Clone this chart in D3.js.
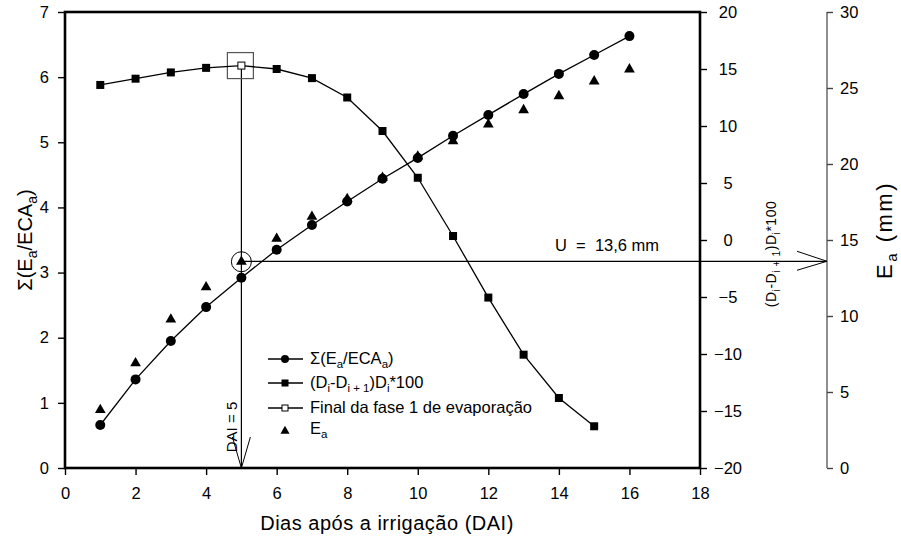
<!DOCTYPE html>
<html>
<head>
<meta charset="utf-8">
<script src="https://cdn.jsdelivr.net/npm/d3@7"></script>
<style>
  body { margin: 0; background: #fff; }
  text { font-family: "Liberation Sans", Arial, sans-serif; fill: #000; }
</style>
</head>
<body>
<svg width="901" height="538"></svg>
<script>
// days after irrigation
var days = [1, 2, 3, 4, 5, 6, 7, 8, 9, 10, 11, 12, 13, 14, 15, 16];
// sum(Ea/ECAa), left axis
var sumRatio = [0.66, 1.36, 1.95, 2.47, 2.92, 3.35, 3.73, 4.09, 4.44, 4.76, 5.10, 5.42, 5.74, 6.05, 6.34, 6.63];
// (Di-Di+1)Di*100, first right axis (days 1..15)
var dRate = [13.6, 14.15, 14.7, 15.1, 15.3, 15.0, 14.2, 12.5, 9.56, 5.46, 0.35, -5.05, -10.06, -13.86, -16.34];
// Ea (mm), second right axis
var ea = [3.82, 6.89, 9.78, 11.89, 13.57, 15.09, 16.53, 17.7, 19.1, 20.5, 21.5, 22.6, 23.55, 24.47, 25.44, 26.23];
var finalDay = 5, finalRate = 15.3, uValue = 13.6;

var xTicks = [0, 2, 4, 6, 8, 10, 12, 14, 16, 18];
var leftTicks = [0, 1, 2, 3, 4, 5, 6, 7];
var right1Ticks = [-20, -15, -10, -5, 0, 5, 10, 15, 20];
var right2Ticks = [0, 5, 10, 15, 20, 25, 30];

var svg = d3.select("svg"),
    pL = 65, pR = 700, pT = 12, pB = 468, axis2X = 827;

var x = d3.scaleLinear().domain([0, 18]).range([pL, pR]);
var y = d3.scaleLinear().domain([0, 7]).range([pB, pT]);
var y1 = d3.scaleLinear().domain([-20, 20]).range([pB, pT]);
var y2 = d3.scaleLinear().domain([0, 30]).range([pB, pT]);
var fmt = d3.format("d");

// axes
var gx = svg.append("g").attr("transform", "translate(0," + pB + ")")
    .call(d3.axisBottom(x).tickValues(xTicks).tickFormat(fmt).tickSize(7).tickPadding(12).tickSizeOuter(0));
var gl = svg.append("g").attr("transform", "translate(" + pL + ",0)")
    .call(d3.axisLeft(y).tickValues(leftTicks).tickFormat(fmt).tickSize(7).tickPadding(9).tickSizeOuter(0));
var gr1 = svg.append("g").attr("transform", "translate(" + pR + ",0)")
    .call(d3.axisRight(y1).tickValues(right1Ticks).tickFormat(fmt).tickSize(7).tickPadding(9).tickSizeOuter(0));
var gr2 = svg.append("g").attr("transform", "translate(" + axis2X + ",0)")
    .call(d3.axisRight(y2).tickValues(right2Ticks).tickFormat(fmt).tickSize(6).tickPadding(7).tickSizeOuter(0));

[gx, gl, gr1, gr2].forEach(function(g) {
    g.selectAll("text").style("font-size", "16.5px").style("font-family", "Liberation Sans, Arial, sans-serif").attr("fill", "#000");
    g.selectAll("line").attr("stroke", "#000").attr("stroke-width", 1.4);
    g.select(".domain").remove();
});
gr1.selectAll("text").attr("text-anchor", "middle").attr("x", 28);
gr2.selectAll("line").attr("stroke", "#444");

// frame
svg.append("rect").attr("x", pL).attr("y", pT).attr("width", pR - pL).attr("height", pB - pT)
    .attr("fill", "none").attr("stroke", "#000").attr("stroke-width", 2.6);
svg.append("line").attr("x1", axis2X).attr("x2", axis2X).attr("y1", pT).attr("y2", pB)
    .attr("stroke", "#444").attr("stroke-width", 1.2);

// guide lines and arrows
var fx = x(finalDay), fy = y1(finalRate), uy = y2(uValue);
svg.append("line").attr("x1", fx).attr("x2", fx).attr("y1", fy).attr("y2", pB)
    .attr("stroke", "#000").attr("stroke-width", 1.2);
svg.append("path").attr("d", "M" + (fx - 9) + "," + (pB - 31) + "L" + fx + "," + pB + "L" + (fx + 9) + "," + (pB - 31))
    .attr("fill", "none").attr("stroke", "#000").attr("stroke-width", 1);
svg.append("line").attr("x1", fx).attr("x2", axis2X).attr("y1", uy).attr("y2", uy)
    .attr("stroke", "#000").attr("stroke-width", 1.2);
svg.append("path").attr("d", "M" + (axis2X - 30) + "," + (uy - 10) + "L" + axis2X + "," + uy + "L" + (axis2X - 30) + "," + (uy + 9))
    .attr("fill", "none").attr("stroke", "#000").attr("stroke-width", 1);
svg.append("circle").attr("cx", fx).attr("cy", y2(ea[4])).attr("r", 10)
    .attr("fill", "none").attr("stroke", "#000").attr("stroke-width", 1);
svg.append("rect").attr("x", fx - 14).attr("y", fy - 13).attr("width", 26).attr("height", 26)
    .attr("fill", "none").attr("stroke", "#555").attr("stroke-width", 1.2);

svg.append("text").attr("transform", "translate(" + (fx - 4) + ",427) rotate(-90)")
    .attr("text-anchor", "middle").style("font-size", "15px").text("DAI = 5");
svg.append("text").attr("x", 555).attr("y", 251).style("font-size", "16.5px")
    .attr("xml:space", "preserve").text("U  =  13,6 mm");

// series
svg.append("path").datum(days).attr("fill", "none").attr("stroke", "#000").attr("stroke-width", 1.3)
    .attr("d", d3.line().x(function(d) { return x(d); }).y(function(d, i) { return y(sumRatio[i]); }));
svg.append("path").datum(days.slice(0, dRate.length)).attr("fill", "none").attr("stroke", "#000").attr("stroke-width", 1.3)
    .attr("d", d3.line().x(function(d) { return x(d); }).y(function(d, i) { return y1(dRate[i]); }));

svg.append("g").selectAll("rect").data(days.slice(0, dRate.length).filter(function(d) { return d !== finalDay; }))
    .enter().append("rect")
    .attr("x", function(d) { return x(d) - 4; })
    .attr("y", function(d) { return y1(dRate[d - 1]) - 4; })
    .attr("width", 8).attr("height", 8).attr("fill", "#000");
svg.append("rect").attr("x", fx - 3.5).attr("y", fy - 3.5).attr("width", 7).attr("height", 7)
    .attr("fill", "#fff").attr("stroke", "#000").attr("stroke-width", 1);

var tri = d3.symbol().type(d3.symbolTriangle).size(50);
svg.append("g").selectAll("path").data(days).enter().append("path")
    .attr("d", tri)
    .attr("transform", function(d, i) { return "translate(" + x(d) + "," + y2(ea[i]) + ")"; })
    .attr("fill", "#000");

svg.append("g").selectAll("circle").data(days).enter().append("circle")
    .attr("cx", function(d) { return x(d); })
    .attr("cy", function(d, i) { return y(sumRatio[i]); })
    .attr("r", 5).attr("fill", "#000");

// legend
var lg = svg.append("g").attr("transform", "translate(268,0)");
var rows = [359, 383, 408, 431];
rows.slice(0, 3).forEach(function(ry) {
    lg.append("line").attr("x1", 0).attr("x2", 35).attr("y1", ry).attr("y2", ry).attr("stroke", "#000").attr("stroke-width", 1.4);
});
lg.append("circle").attr("cx", 17).attr("cy", rows[0]).attr("r", 4).attr("fill", "#000");
lg.append("rect").attr("x", 13.5).attr("y", rows[1] - 3.5).attr("width", 7).attr("height", 7).attr("fill", "#000");
lg.append("rect").attr("x", 14).attr("y", rows[2] - 3).attr("width", 6).attr("height", 6).attr("fill", "#fff").attr("stroke", "#000").attr("stroke-width", 1);
lg.append("path").attr("d", d3.symbol().type(d3.symbolTriangle).size(36)).attr("transform", "translate(17," + rows[3] + ")");

var lfs = "16.5px", sfs = "11.5px";
var l1 = lg.append("text").attr("x", 42).attr("y", rows[0] + 5).style("font-size", lfs);
l1.append("tspan").text("Σ(E");
l1.append("tspan").attr("dy", 4).style("font-size", sfs).text("a");
l1.append("tspan").attr("dy", -4).text("/ECA");
l1.append("tspan").attr("dy", 4).style("font-size", sfs).text("a");
l1.append("tspan").attr("dy", -4).text(")");

var l2 = lg.append("text").attr("x", 42).attr("y", rows[1] + 5).style("font-size", lfs);
l2.append("tspan").text("(D");
l2.append("tspan").attr("dy", 4).style("font-size", sfs).text("i");
l2.append("tspan").attr("dy", -4).text("-D");
l2.append("tspan").attr("dy", 4).style("font-size", sfs).text("i + 1");
l2.append("tspan").attr("dy", -4).text(")D");
l2.append("tspan").attr("dy", 4).style("font-size", sfs).text("i");
l2.append("tspan").attr("dy", -4).text("*100");

lg.append("text").attr("x", 42).attr("y", rows[2] + 5).style("font-size", lfs).text("Final da fase 1 de evaporação");
var l4 = lg.append("text").attr("x", 42).attr("y", rows[3] + 3).style("font-size", lfs);
l4.append("tspan").text("E");
l4.append("tspan").attr("dy", 4).style("font-size", sfs).text("a");

// axis titles
svg.append("text").attr("x", 387).attr("y", 530).attr("text-anchor", "middle").style("font-size", "20px")
    .style("letter-spacing", "0.5px").text("Dias após a irrigação (DAI)");

var tl = svg.append("text").attr("transform", "translate(32,240) rotate(-90)").attr("text-anchor", "middle").style("font-size", "20px");
tl.append("tspan").text("Σ(E");
tl.append("tspan").attr("dy", 5).style("font-size", "14px").text("a");
tl.append("tspan").attr("dy", -5).text("/ECA");
tl.append("tspan").attr("dy", 5).style("font-size", "14px").text("a");
tl.append("tspan").attr("dy", -5).text(")");

var tr1 = svg.append("text").attr("transform", "translate(776,254) rotate(-90)").attr("text-anchor", "middle")
    .style("font-size", "14px").style("letter-spacing", "0.5px");
tr1.append("tspan").text("(D");
tr1.append("tspan").attr("dy", 4).style("font-size", "10.5px").text("i");
tr1.append("tspan").attr("dy", -4).text("-D");
tr1.append("tspan").attr("dy", 4).style("font-size", "10.5px").text("i + 1");
tr1.append("tspan").attr("dy", -4).text(")D");
tr1.append("tspan").attr("dy", 4).style("font-size", "10.5px").text("i");
tr1.append("tspan").attr("dy", -4).text("*100");

var tr2 = svg.append("text").attr("transform", "translate(892,230) rotate(-90)").attr("text-anchor", "middle")
    .style("font-size", "22px").style("letter-spacing", "2.5px");
tr2.append("tspan").text("E");
tr2.append("tspan").attr("dy", 5).style("font-size", "15px").text("a");
tr2.append("tspan").attr("dy", -5).text(" (mm)");
</script>
</body>
</html>
